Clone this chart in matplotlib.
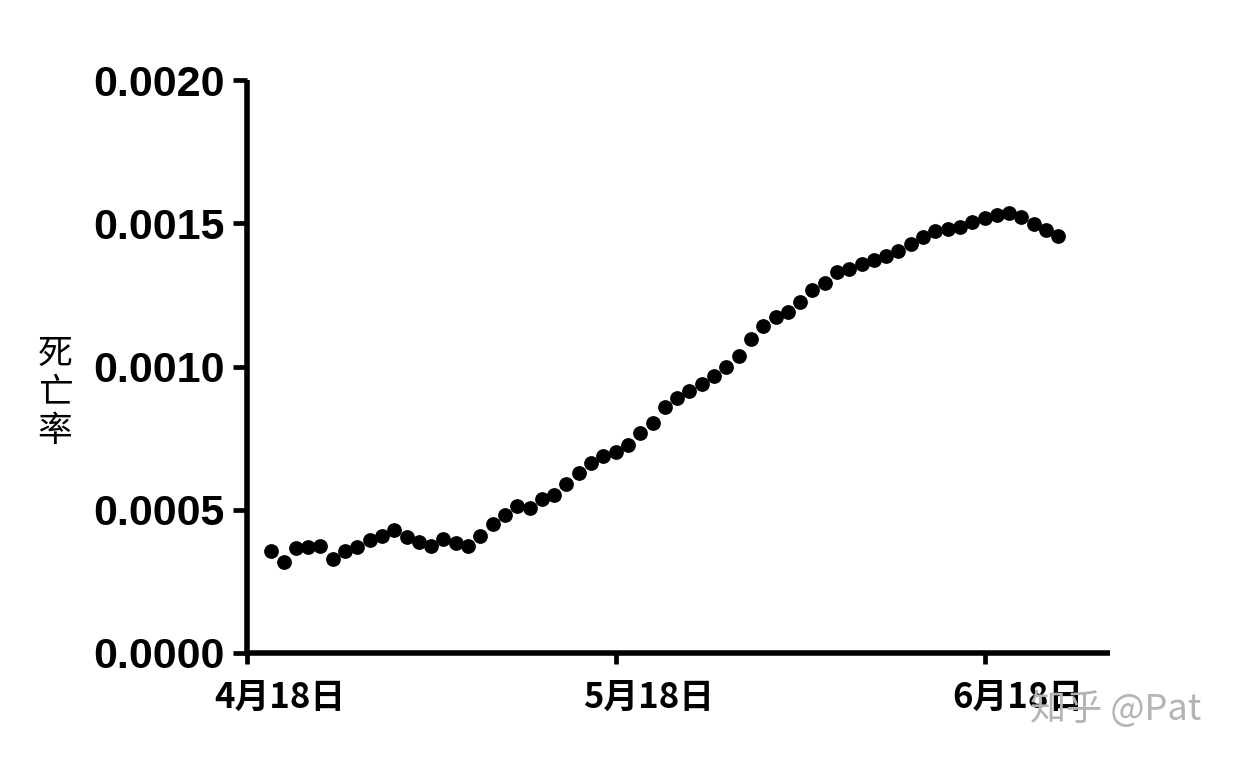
import matplotlib
matplotlib.use("Agg")
import matplotlib.pyplot as plt
import matplotlib.transforms as mtransforms

# Data: day index since 4月18日, mortality rate
days = list(range(2, 67))
rate = [0.000357, 0.000317, 0.000365, 0.000370, 0.000373, 0.000329, 0.000357, 0.000371,
        0.000393, 0.000407, 0.000429, 0.000404, 0.000387, 0.000375, 0.000398, 0.000384,
        0.000373, 0.000408, 0.000450, 0.000482, 0.000512, 0.000507, 0.000538, 0.000553,
        0.000591, 0.000629, 0.000662, 0.000688, 0.000703, 0.000726, 0.000767, 0.000802,
        0.000859, 0.000889, 0.000913, 0.000940, 0.000968, 0.000998, 0.001036, 0.001097,
        0.001140, 0.001174, 0.001189, 0.001226, 0.001267, 0.001290, 0.001330, 0.001340,
        0.001359, 0.001372, 0.001385, 0.001404, 0.001428, 0.001453, 0.001473, 0.001481,
        0.001486, 0.001505, 0.001518, 0.001528, 0.001535, 0.001522, 0.001498, 0.001476,
        0.001457]
xtick_pos = [0, 30, 60]
xtick_labels = ["4月18日", "5月18日", "6月18日"]
ytick_pos = [0.0, 0.0005, 0.0010, 0.0015, 0.0020]
ytick_labels = ["0.0000", "0.0005", "0.0010", "0.0015", "0.0020"]
ylabel = "死\n亡\n率"

W, H = 1240, 759
fig = plt.figure(figsize=(W / 100, H / 100), dpi=100)
ax = fig.add_axes([246.7 / W, (H - 653) / H, (1110 - 246.7) / W, (653 - 80) / H])

ax.plot(days, rate, linestyle="none", marker="o", markersize=9.6, color="black",
        clip_on=False, zorder=3)

ax.set_xlim(0, 70.2)
ax.set_ylim(0, 0.002)

for s in ["top", "right"]:
    ax.spines[s].set_visible(False)
for s in ["left", "bottom"]:
    ax.spines[s].set_linewidth(4.0)
    ax.spines[s].set_capstyle("butt")

ax.set_yticks(ytick_pos)
ax.set_yticklabels(ytick_labels, family="Liberation Sans", fontweight="bold", fontsize=31)
ax.set_xticks(xtick_pos)
ax.set_xticklabels(xtick_labels, family=["Noto Sans CJK SC", "DejaVu Sans"],
                   fontweight="bold", fontsize=25)
ax.tick_params(axis="y", length=10, width=3.4, pad=6, direction="out")
ax.tick_params(axis="x", length=8, width=3.4, pad=11, direction="out")

offset = mtransforms.ScaledTranslation(33 / 100, 0, fig.dpi_scale_trans)
for lbl in ax.get_xticklabels():
    lbl.set_transform(lbl.get_transform() + offset)

fig.text(55 / W, 1 - 393 / H, ylabel, ha="center", va="center",
         family=["Noto Sans CJK SC", "DejaVu Sans"], fontsize=25, linespacing=1.12)

fig.text(1030 / W, 1 - 709 / H, "知乎 @Pat", ha="left", va="center",
         family=["Noto Sans CJK SC", "DejaVu Sans"], fontsize=26, color="#b4b4b4",
         zorder=10)

fig.savefig("out.png", dpi=100, facecolor="white")
